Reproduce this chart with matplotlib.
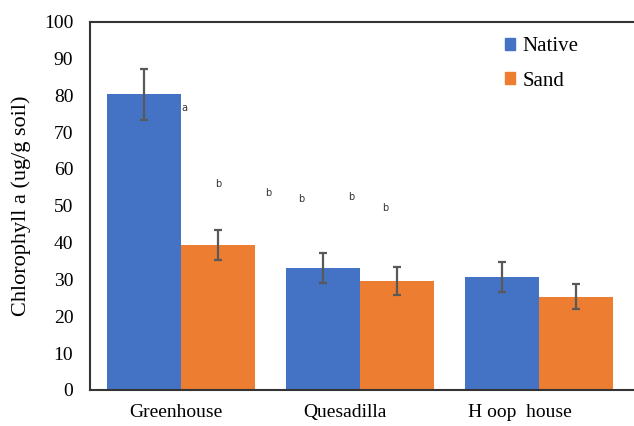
import matplotlib
matplotlib.use("Agg")
import matplotlib.pyplot as plt
import numpy as np
from matplotlib.patches import Patch

sites = ["Greenhouse", "Quesadilla", "H oop  house"]
native = [80.2, 33.2, 30.7]
native_err = [7.0, 4.1, 4.1]
sand = [39.4, 29.6, 25.3]
sand_err = [4.0, 3.8, 3.4]

# significance letters (x in category units, y in data units)
letters = ["a", "b", "b", "b", "b", "b"]
letter_x = [0.02, 0.21, 0.49, 0.67, 0.95, 1.14]
letter_y = [76.6, 56.0, 53.5, 51.8, 52.3, 49.3]

blue = "#4472C4"
orange = "#ED7D31"
errc = "#595959"

plt.rcParams['font.family'] = ['Liberation Serif', 'DejaVu Serif']

fig = plt.figure(figsize=(6.34, 4.26), dpi=100)
ax = fig.add_axes([90/634, 36/426, 1 - 90/634, 368.5/426])

x = np.arange(len(sites))
w = 0.413
ax.bar(x - w/2, native, w, color=blue, label="Native")
ax.bar(x + w/2, sand, w, color=orange, label="Sand")
ax.errorbar(x - w/2, native, yerr=native_err, fmt="none", ecolor=errc,
            elinewidth=1.6, capsize=3, capthick=1.6)
ax.errorbar(x + w/2, sand, yerr=sand_err, fmt="none", ecolor=errc,
            elinewidth=1.6, capsize=3, capthick=1.6)

for lx, ly, t in zip(letter_x, letter_y, letters):
    ax.text(lx, ly, t, ha="center", va="center", fontsize=7,
            family="DejaVu Sans", color="#333333")

ax.set_xlim(-0.508, 2.53)
ax.set_ylim(0, 100)
ax.set_yticks(np.arange(0, 101, 10))
# category labels sit a little left of the bar pairs
ax.set_xticks(x - np.array([0.03, 0.085, 0.105]))
ax.set_xticklabels(sites, fontsize=14)
ax.tick_params(axis="y", labelsize=14, length=0, pad=12)
ax.tick_params(axis="x", length=0, pad=10)
ax.set_ylabel("Chlorophyll a (ug/g soil)", fontsize=16, labelpad=9)

ax.spines["right"].set_visible(False)
for s in ["left", "top", "bottom"]:
    ax.spines[s].set_linewidth(1.5)
    ax.spines[s].set_color("#333333")

handles = [Patch(color=blue), Patch(color=orange)]
ax.legend(handles, ["Native", "Sand"], loc="upper left",
          bbox_to_anchor=(505/634, 1 - 37/426), bbox_transform=fig.transFigure,
          frameon=False, fontsize=15, handlelength=0.5, handleheight=0.5,
          handletextpad=0.35, labelspacing=0.75, borderaxespad=0, borderpad=0)

fig.savefig("out.png", dpi=100)
